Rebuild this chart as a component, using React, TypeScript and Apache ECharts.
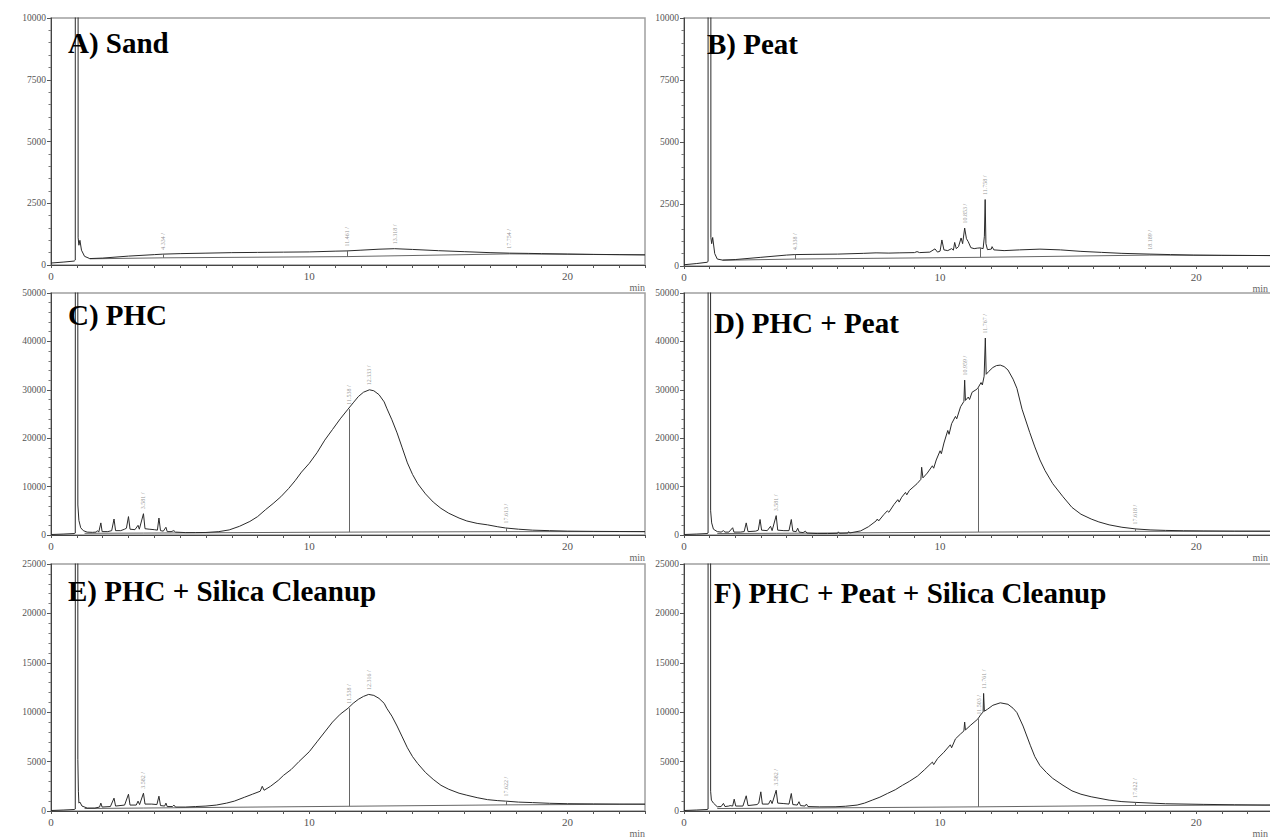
import React, { useEffect, useRef } from "react";
import * as echarts from "echarts";

type Pt = [number, number];
type Peak = [number, number, string];
type Drop = [number, number, number];

// ---------- data (retention time in min, detector response) ----------
const TITLES = ["A) Sand", "B) Peat", "C) PHC", "D) PHC + Peat", "E) PHC + Silica Cleanup", "F) PHC + Peat + Silica Cleanup"];
const Y_MAX = [10000, 10000, 50000, 50000, 25000, 25000];
const Y_STEP = [2500, 2500, 10000, 10000, 5000, 5000];
const X_MAX = 23;
const X_LABELS = [0, 10, 20];

const SAND_TRACE: Pt[] = [
  [0, 80], [0.5, 120], [0.9, 160], [0.94, 200], [0.95, 300000], [1.03, 300000], [1.05, 1100], [1.08, 800], [1.12, 1000],
  [1.18, 600], [1.3, 350], [1.5, 260], [2.0, 280], [3.0, 360], [4.0, 420], [4.33, 440], [5.0, 460], [6.0, 480],
  [7.0, 500], [8.0, 510], [9.0, 520], [10.0, 530], [11.0, 560], [11.46, 570], [12.0, 600], [12.7, 640], [13.3, 660],
  [14.0, 630], [15.0, 580], [16.0, 540], [17.0, 500], [17.75, 480], [18.5, 470], [19.0, 460], [20.0, 445], [21.0, 430],
  [22.0, 420], [23.0, 410],
];
const SAND_BASELINE: Pt[] = [[1.5, 250], [4.33, 290], [11.46, 340], [17.75, 450], [23, 410]];
const SAND_PEAKS: Peak[] = [[4.33, 440, "4.334 /"], [11.46, 570, "11.461 /"], [13.32, 660, "13.318 /"], [17.75, 480, "17.754 /"]];
const SAND_DROPS: Drop[] = [[4.33, 290, 440], [11.46, 340, 570], [17.75, 450, 480]];

const PEAT_TRACE: Pt[] = [
  [0, 50], [0.5, 100], [0.9, 150], [0.94, 180], [0.95, 300000], [1.03, 300000], [1.05, 1150], [1.08, 900], [1.12, 1150],
  [1.2, 500], [1.3, 280], [1.5, 240], [2.0, 260], [3.0, 350], [4.0, 440], [4.33, 460], [5.0, 470], [6.0, 480],
  [7.0, 510], [7.5, 530], [8.0, 520], [8.4, 530], [9.0, 540], [9.1, 580], [9.2, 540], [9.6, 560], [9.8, 690],
  [9.9, 560], [10.0, 600], [10.07, 1050], [10.15, 650], [10.3, 620], [10.45, 700], [10.52, 640], [10.57, 950],
  [10.63, 700], [10.72, 780], [10.82, 1130], [10.88, 900], [10.96, 1530], [11.03, 1100], [11.1, 980], [11.2, 740],
  [11.33, 700], [11.45, 720], [11.56, 730], [11.68, 700], [11.73, 1200], [11.76, 2680], [11.79, 900], [11.85, 660],
  [12.0, 680], [12.03, 780], [12.1, 650], [12.5, 620], [13.1, 650], [13.9, 680], [14.7, 650], [15.5, 590],
  [16.3, 550], [17.1, 510], [18.2, 480], [19.0, 460], [19.9, 440], [21.0, 430], [23.0, 420],
];
const PEAT_BASELINE: Pt[] = [[1.5, 230], [4.34, 280], [11.56, 350], [18.19, 440], [23, 420]];
const PEAT_PEAKS: Peak[] = [[4.34, 460, "4.338 /"], [10.96, 1530, "10.853 /"], [11.76, 2680, "11.758 /"], [18.19, 470, "18.189 /"]];
const PEAT_DROPS: Drop[] = [[4.34, 280, 460], [11.56, 350, 730], [18.19, 440, 470]];

const PHC_TRACE: Pt[] = [
  [0, 100], [0.5, 200], [0.9, 300], [0.94, 400], [0.95, 300000], [1.03, 300000], [1.04, 6200], [1.08, 3000],
  [1.15, 1500], [1.25, 900], [1.4, 600], [1.6, 550], [1.75, 600], [1.8, 900], [1.85, 600], [1.93, 2500], [1.98, 700],
  [2.2, 700], [2.35, 900], [2.44, 3300], [2.5, 900], [2.7, 900], [2.85, 1200], [2.92, 1400], [3.0, 3800], [3.06, 1200],
  [3.25, 1100], [3.37, 2000], [3.42, 1200], [3.58, 4400], [3.64, 1300], [3.8, 1200], [4.0, 1100], [4.12, 1000],
  [4.18, 3500], [4.24, 900], [4.35, 800], [4.45, 1600], [4.5, 700], [4.65, 700], [4.76, 900], [4.82, 600], [5.2, 500],
  [5.6, 500], [6.0, 520], [6.5, 700], [6.9, 1050], [7.3, 1800], [7.7, 2800], [8.0, 3800], [8.3, 5200], [8.6, 6500],
  [8.9, 7900], [9.2, 9600], [9.45, 11200], [9.7, 13000], [10.0, 14800], [10.3, 17000], [10.6, 19600], [10.9, 21800],
  [11.2, 24000], [11.5, 26000], [11.7, 27300], [11.9, 28600], [12.1, 29500], [12.33, 30000], [12.5, 29800],
  [12.7, 29000], [12.9, 27500], [13.0, 26200], [13.2, 23800], [13.4, 21100], [13.6, 18000], [13.8, 14900],
  [14.0, 12500], [14.2, 10600], [14.5, 8500], [14.8, 6800], [15.1, 5500], [15.4, 4500], [15.8, 3500], [16.1, 2900],
  [16.5, 2400], [16.9, 2100], [17.3, 1700], [17.6, 1450], [18.1, 1200], [18.65, 1000], [19.3, 900], [20.0, 800],
  [21.0, 750], [22.0, 720], [23.0, 700],
];
const PHC_BASELINE: Pt[] = [[1.3, 350], [3.58, 400], [11.54, 600], [17.61, 700], [23, 700]];
const PHC_PEAKS: Peak[] = [[3.58, 4400, "3.581 /"], [11.54, 26000, "11.538 /"], [12.33, 30000, "12.333 /"], [17.61, 1450, "17.613 /"]];
const PHC_DROPS: Drop[] = [[11.54, 600, 26000], [17.61, 700, 1450]];

const PHC_PEAT_TRACE: Pt[] = [
  [0, 100], [0.5, 200], [0.9, 300], [0.94, 400], [0.95, 300000], [1.03, 300000], [1.04, 5000], [1.08, 2500],
  [1.15, 1200], [1.3, 700], [1.45, 600], [1.54, 900], [1.6, 600], [1.75, 600], [1.9, 1500], [1.95, 600], [2.2, 600],
  [2.35, 700], [2.43, 2500], [2.5, 700], [2.8, 800], [2.9, 1000], [2.97, 3200], [3.03, 1000], [3.25, 900],
  [3.38, 1800], [3.44, 900], [3.6, 4000], [3.66, 1000], [3.9, 900], [4.1, 900], [4.19, 3200], [4.25, 800],
  [4.38, 700], [4.44, 1400], [4.5, 600], [4.65, 500], [4.74, 800], [4.8, 400], [5.2, 300], [5.6, 300], [6.0, 350],
  [6.03, 650], [6.07, 350], [6.4, 400], [6.43, 700], [6.47, 420], [6.9, 850], [7.2, 1700], [7.5, 2900], [7.55, 3300],
  [7.6, 2900], [7.8, 4200], [7.94, 5000], [8.0, 4700], [8.2, 6300], [8.35, 7300], [8.4, 6800], [8.5, 7800],
  [8.65, 8800], [8.7, 8300], [8.8, 9200], [9.1, 10600], [9.25, 11500], [9.28, 14000], [9.33, 11800], [9.5, 12800],
  [9.7, 14300], [9.75, 13800], [9.85, 15500], [10.0, 17400], [10.05, 16800], [10.15, 19000], [10.3, 21600],
  [10.35, 20800], [10.45, 23000], [10.6, 24500], [10.65, 24000], [10.8, 26500], [10.93, 27600], [10.96, 32000],
  [10.99, 27800], [11.1, 28500], [11.15, 28000], [11.25, 29500], [11.4, 30000], [11.47, 30300], [11.6, 31500],
  [11.65, 31000], [11.72, 32800], [11.767, 40700], [11.8, 33200], [11.9, 33800], [12.06, 34600], [12.2, 35000],
  [12.35, 35100], [12.5, 34800], [12.65, 34100], [12.85, 32200], [13.0, 30300], [13.2, 26000], [13.5, 21200],
  [13.7, 18200], [13.9, 15500], [14.1, 13300], [14.4, 10600], [14.8, 7900], [15.15, 5700], [15.5, 4300],
  [15.9, 3300], [16.2, 2700], [16.6, 2100], [17.1, 1600], [17.65, 1250], [18.2, 1050], [18.8, 950], [19.5, 880],
  [20.3, 840], [21.5, 800], [23, 780],
];
const PHC_PEAT_BASELINE: Pt[] = [[1.3, 300], [3.6, 350], [11.5, 600], [17.62, 750], [23, 780]];
const PHC_PEAT_PEAKS: Peak[] = [[3.6, 4000, "3.581 /"], [10.96, 32000, "10.959 /"], [11.767, 40700, "11.767 /"], [17.62, 1250, "17.618 /"]];
const PHC_PEAT_DROPS: Drop[] = [[11.5, 600, 30300], [17.62, 750, 1250]];

const PHC_SILICA_TRACE: Pt[] = [
  [0, 50], [0.5, 100], [0.9, 150], [0.94, 200], [0.95, 300000], [1.03, 300000], [1.04, 5200], [1.06, 2000],
  [1.08, 800], [1.12, 900], [1.2, 500], [1.4, 300], [1.7, 300], [1.88, 400], [1.93, 800], [1.98, 400], [2.3, 450],
  [2.44, 1300], [2.5, 500], [2.85, 600], [3.0, 1700], [3.06, 600], [3.3, 600], [3.37, 1000], [3.43, 650],
  [3.58, 1800], [3.64, 700], [3.9, 700], [4.1, 650], [4.18, 1500], [4.24, 550], [4.4, 500], [4.45, 800], [4.5, 450],
  [4.7, 450], [4.76, 600], [4.82, 400], [5.2, 400], [5.6, 450], [6.0, 500], [6.4, 600], [6.8, 800], [7.1, 1000],
  [7.5, 1400], [7.8, 1700], [8.1, 2000], [8.18, 2500], [8.25, 2100], [8.5, 2500], [8.8, 3100], [9.0, 3600],
  [9.3, 4200], [9.6, 5000], [10.0, 6000], [10.3, 7000], [10.6, 8000], [10.9, 9000], [11.2, 9800], [11.5, 10400],
  [11.7, 10900], [11.9, 11300], [12.1, 11600], [12.3, 11800], [12.5, 11700], [12.7, 11400], [12.9, 10900],
  [13.0, 10400], [13.2, 9600], [13.4, 8600], [13.6, 7500], [13.8, 6400], [14.0, 5500], [14.2, 4800], [14.5, 3900],
  [14.8, 3200], [15.1, 2600], [15.4, 2200], [15.8, 1800], [16.1, 1600], [16.5, 1350], [16.9, 1150], [17.3, 1050],
  [17.6, 1000], [18.1, 900], [18.65, 850], [19.3, 780], [20.0, 740], [21.0, 720], [22.0, 700], [23.0, 690],
];
const PHC_SILICA_BASELINE: Pt[] = [[1.3, 250], [3.58, 300], [11.54, 480], [17.62, 620], [23, 690]];
const PHC_SILICA_PEAKS: Peak[] = [[3.58, 1800, "3.582 /"], [11.54, 10400, "11.538 /"], [12.32, 11800, "12.316 /"], [17.62, 1000, "17.622 /"]];
const PHC_SILICA_DROPS: Drop[] = [[11.54, 480, 10400], [17.62, 620, 1000]];

const PHC_PEAT_SILICA_TRACE: Pt[] = [
  [0, 50], [0.5, 100], [0.9, 150], [0.94, 200], [0.95, 300000], [1.03, 300000], [1.04, 2000], [1.07, 1100],
  [1.15, 800], [1.3, 430], [1.45, 450], [1.54, 770], [1.6, 450], [1.75, 500], [1.8, 550], [1.9, 500], [1.96, 1200],
  [2.02, 500], [2.3, 500], [2.43, 1540], [2.5, 550], [2.85, 650], [2.92, 800], [3.0, 1940], [3.06, 700], [3.3, 700],
  [3.38, 1100], [3.44, 750], [3.6, 2100], [3.66, 800], [3.9, 750], [4.1, 700], [4.19, 1770], [4.25, 650], [4.42, 600],
  [4.49, 940], [4.55, 550], [4.72, 500], [4.78, 700], [4.84, 450], [5.3, 420], [5.9, 430], [6.3, 480], [6.76, 600],
  [7.05, 800], [7.35, 1100], [7.65, 1400], [7.94, 1770], [8.25, 2150], [8.53, 2600], [8.8, 3000], [9.12, 3540],
  [9.4, 4200], [9.7, 4950], [9.75, 4700], [9.9, 5300], [10.15, 5950], [10.4, 6700], [10.45, 6400], [10.6, 7300],
  [10.8, 7800], [10.93, 8100], [10.96, 9000], [10.99, 8200], [11.2, 8700], [11.47, 9300], [11.6, 9800],
  [11.68, 10000], [11.7, 11900], [11.73, 10100], [11.85, 10300], [12.06, 10700], [12.35, 10950], [12.65, 10800],
  [12.85, 10400], [13.0, 9960], [13.24, 8600], [13.53, 6600], [13.7, 5500], [13.9, 4600], [14.15, 3900],
  [14.4, 3300], [14.8, 2600], [15.15, 2040], [15.5, 1700], [15.9, 1440], [16.6, 1100], [17.1, 950], [17.65, 870],
  [18.8, 735], [20.3, 670], [21.5, 630], [22.65, 600], [23, 600],
];
const PHC_PEAT_SILICA_BASELINE: Pt[] = [[1.3, 250], [3.6, 280], [11.5, 420], [17.62, 560], [23, 600]];
const PHC_PEAT_SILICA_PEAKS: Peak[] = [[3.6, 2100, "3.582 /"], [11.5, 9300, "11.503 /"], [11.7, 11900, "11.761 /"], [17.62, 870, "17.622 /"]];
const PHC_PEAT_SILICA_DROPS: Drop[] = [[11.5, 420, 9300], [17.62, 560, 870]];

const TRACES = [SAND_TRACE, PEAT_TRACE, PHC_TRACE, PHC_PEAT_TRACE, PHC_SILICA_TRACE, PHC_PEAT_SILICA_TRACE];
const BASELINES = [SAND_BASELINE, PEAT_BASELINE, PHC_BASELINE, PHC_PEAT_BASELINE, PHC_SILICA_BASELINE, PHC_PEAT_SILICA_BASELINE];
const PEAKS = [SAND_PEAKS, PEAT_PEAKS, PHC_PEAKS, PHC_PEAT_PEAKS, PHC_SILICA_PEAKS, PHC_PEAT_SILICA_PEAKS];
const DROPS = [SAND_DROPS, PEAT_DROPS, PHC_DROPS, PHC_PEAT_DROPS, PHC_SILICA_DROPS, PHC_PEAT_SILICA_DROPS];

// ---------- layout ----------
const LAYOUT = [
  { left: 51, top: 18, width: 594, height: 247, tx: 68, ty: 28, namePad: 0 },
  { left: 684, top: 18, width: 590, height: 248, tx: 707, ty: 29, namePad: 5 },
  { left: 51, top: 293, width: 594, height: 242, tx: 68, ty: 300, namePad: 0 },
  { left: 684, top: 293, width: 590, height: 242, tx: 714, ty: 308, namePad: 5 },
  { left: 51, top: 564, width: 594, height: 248, tx: 68, ty: 576, namePad: 0 },
  { left: 684, top: 564, width: 590, height: 248, tx: 714, ty: 578, namePad: 5 },
];

const SERIF = "'Liberation Serif', 'Times New Roman', serif";

export default function App() {
  const ref = useRef<HTMLDivElement>(null);

  useEffect(() => {
    if (!ref.current) return;
    const chart = echarts.init(ref.current, undefined, { renderer: "svg" });

    const grid = LAYOUT.map((l) => ({
      left: l.left, top: l.top, width: l.width, height: l.height,
      show: true, borderColor: "#a0a0a0", borderWidth: 1.5, backgroundColor: "transparent",
    }));

    const xAxis = LAYOUT.map((l, i) => ({
      type: "value", gridIndex: i, min: 0, max: X_MAX, interval: 1,
      axisLine: { show: true, onZero: false, lineStyle: { color: "#444", width: 1 } },
      axisTick: { show: true, length: 3, lineStyle: { color: "#555" } },
      splitLine: { show: false },
      axisLabel: {
        formatter: (v: number) => (X_LABELS.includes(v) ? String(v) : ""),
        fontSize: 11, color: "#555", fontFamily: SERIF, margin: 5,
      },
      name: "min", nameLocation: "end", nameGap: 0,
      nameTextStyle: {
        fontSize: 10, color: "#666", fontFamily: SERIF, align: "right", verticalAlign: "top",
        padding: [17, l.namePad, 0, 0],
      },
    }));

    const yAxis = LAYOUT.map((_, i) => ({
      type: "value", gridIndex: i, min: 0, max: Y_MAX[i], interval: Y_STEP[i],
      axisLine: { show: true, lineStyle: { color: "#444", width: 1 } },
      axisTick: { show: true, length: 4, lineStyle: { color: "#555" } },
      minorTick: { show: true, splitNumber: 5, length: 2.5, lineStyle: { color: "#777" } },
      splitLine: { show: false },
      minorSplitLine: { show: false },
      axisLabel: { formatter: (v: number) => String(v), fontSize: 9.5, color: "#555", fontFamily: SERIF, margin: 5 },
    }));

    const series: any[] = [];
    LAYOUT.forEach((_, i) => {
      series.push({
        type: "line", xAxisIndex: i, yAxisIndex: i, data: TRACES[i],
        symbol: "none", showSymbol: false, clip: true, silent: true, z: 3,
        lineStyle: { color: "#2a2a2a", width: 1 },
      });
      series.push({
        type: "line", xAxisIndex: i, yAxisIndex: i, data: BASELINES[i],
        symbol: "none", showSymbol: false, clip: true, silent: true, z: 2,
        lineStyle: { color: "#555", width: 0.9 },
        markLine: {
          silent: true, symbol: ["none", "none"], label: { show: false },
          lineStyle: { color: "#666", width: 1, type: "solid" },
          data: DROPS[i].map(([t, a, b]) => [{ coord: [t, a] }, { coord: [t, b] }]),
        },
      });
      series.push({
        type: "scatter", xAxisIndex: i, yAxisIndex: i, silent: true, z: 4,
        symbol: "circle", symbolSize: 1, itemStyle: { color: "transparent" },
        data: PEAKS[i].map(([t, v, s]) => ({ name: s, value: [t, v] })),
        label: {
          show: true, formatter: "{b}", position: "top", distance: 4, rotate: 90,
          align: "left", verticalAlign: "middle", fontSize: 6, color: "#777", fontFamily: SERIF,
        },
      });
    });

    const title = LAYOUT.map((l, i) => ({
      text: TITLES[i], left: l.tx, top: l.ty, padding: 0,
      textStyle: { fontFamily: SERIF, fontWeight: "bold", fontSize: 29, color: "#000" },
    }));

    chart.setOption({ animation: false, backgroundColor: "#fff", title, grid, xAxis, yAxis, series });
    return () => chart.dispose();
  }, []);

  return (
    <div style={{ position: "absolute", left: 0, top: 0, width: 1270, height: 838, overflow: "hidden", background: "#fff" }}>
      <div ref={ref} style={{ width: 1276, height: 838 }} />
    </div>
  );
}
